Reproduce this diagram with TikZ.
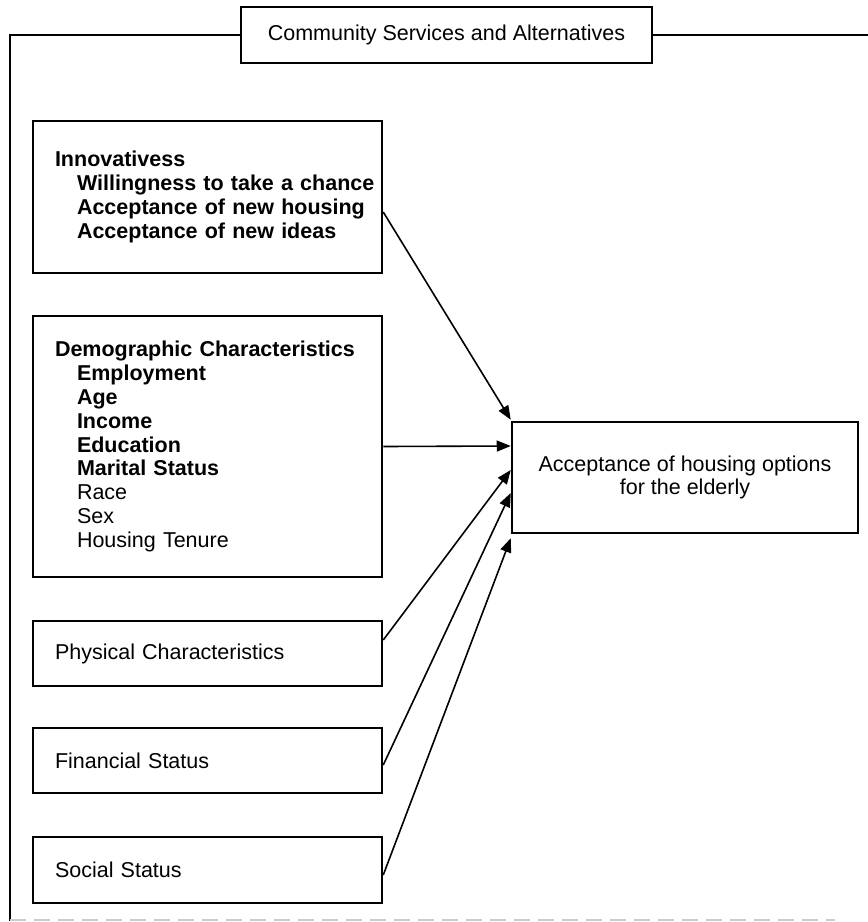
\documentclass[tikz,border=0pt]{standalone}
\usepackage{fontspec}
\setmainfont{Liberation Sans}
\usetikzlibrary{arrows.meta}
\newcommand{\ind}{\hspace*{22pt}}
\begin{document}
\begin{tikzpicture}[x=1pt,y=-1pt,
  every node/.style={font=\fontsize{21.5}{23.8}\selectfont},
  box/.style={draw,line width=2.5pt,inner sep=0pt,minimum width=349pt},
  leftbox/.style={box,text width=342pt,inner xsep=3.5pt,align=left,
    execute at begin node={\leftskip=18.5pt}},
  arr/.style={line width=1.6pt,-{Triangle[length=14pt,width=11pt]}}]
  \useasboundingbox (0,0) rectangle (868,922);
  \node[box,minimum width=411pt,minimum height=56pt] (title) at (446.5,35) {Community Services and Alternatives};
  \draw[line width=2pt] (title.west) -- (10,35) -- (10,921);
  \draw[line width=2pt] (title.east) -- (868,35);
  \draw[gray!40,line width=2pt,dash pattern=on 16pt off 8pt] (10,920) -- (835,920);
  \node[leftbox,minimum height=152pt,font=\fontsize{21.5}{23.8}\selectfont\bfseries] (innov) at (207.5,197)
    {Innovativess\\\ind Willingness to take a chance\\\ind Acceptance of new housing\\\ind Acceptance of new ideas};
  \node[leftbox,minimum height=261pt] (demog) at (207.5,446.5)
    {\bfseries Demographic Characteristics\\\ind Employment\\\ind Age\\\ind Income\\\ind Education\\\ind Marital Status\\
     \mdseries\ind Race\\\ind Sex\\\ind Housing Tenure};
  \node[leftbox,minimum height=65pt] (phys) at (207.5,653.5) {Physical Characteristics};
  \node[leftbox,minimum height=65pt] (fin) at (207.5,760.5) {Financial Status};
  \node[leftbox,minimum height=66pt] (soc) at (207.5,870) {Social Status};
  \node[box,minimum width=346pt,minimum height=111pt,align=center] (accept) at (685,477.5)
    {Acceptance of housing options\\for the elderly};
  \draw[arr] ([yshift=-15pt]innov.east) -- ([yshift=1pt]accept.north west);
  \draw[arr] (demog.east) -- ([yshift=31.5pt]accept.west);
  \draw[arr] ([yshift=13.5pt]phys.east) -- ([yshift=7.5pt]accept.west);
  \draw[arr] ([yshift=-4.5pt]fin.east) -- ([yshift=-15.5pt]accept.west);
  \draw[arr] ([yshift=-5pt]soc.east) -- ([yshift=-4pt]accept.south west);
\end{tikzpicture}
\end{document}
